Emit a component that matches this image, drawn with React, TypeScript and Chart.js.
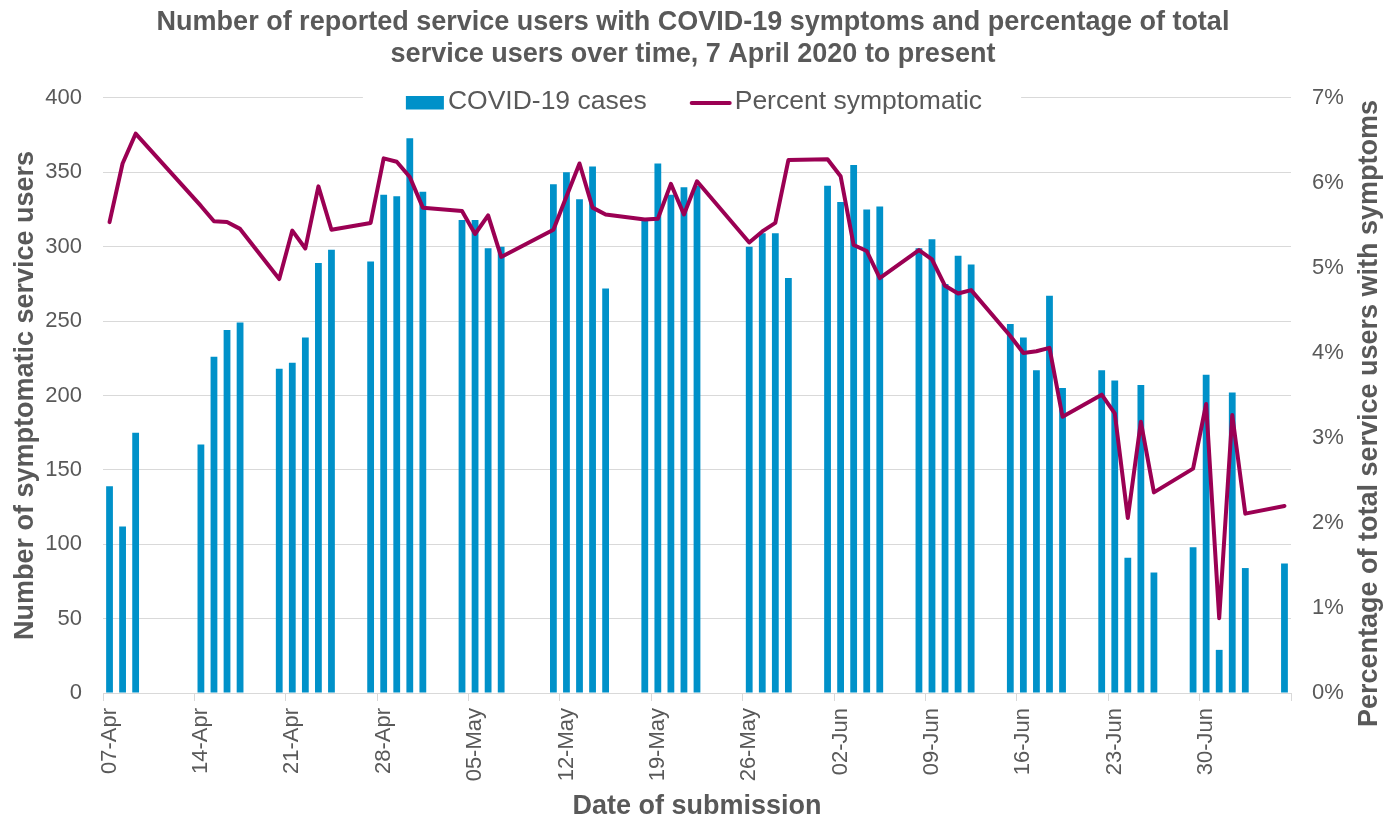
import React, { useEffect, useRef } from "react";
import { Chart, registerables } from "chart.js";

Chart.register(...registerables);

const TITLE_LINES = [
  "Number of reported service users with COVID-19 symptoms and percentage of total",
  "service users over time, 7 April 2020 to present",
];
const X_TITLE = "Date of submission";
const Y_LEFT_TITLE = "Number of symptomatic service users";
const Y_RIGHT_TITLE = "Percentage of total service users with symptoms";
const BAR_LABEL = "COVID-19 cases";
const LINE_LABEL = "Percent symptomatic";

// one category per day, 07-Apr (Tue) .. 06-Jul (Mon), laid out in weeks of 7
const DATES = [
  "07-Apr", "08-Apr", "09-Apr", "10-Apr", "11-Apr", "12-Apr", "13-Apr",
  "14-Apr", "15-Apr", "16-Apr", "17-Apr", "18-Apr", "19-Apr", "20-Apr",
  "21-Apr", "22-Apr", "23-Apr", "24-Apr", "25-Apr", "26-Apr", "27-Apr",
  "28-Apr", "29-Apr", "30-Apr", "01-May", "02-May", "03-May", "04-May",
  "05-May", "06-May", "07-May", "08-May", "09-May", "10-May", "11-May",
  "12-May", "13-May", "14-May", "15-May", "16-May", "17-May", "18-May",
  "19-May", "20-May", "21-May", "22-May", "23-May", "24-May", "25-May",
  "26-May", "27-May", "28-May", "29-May", "30-May", "31-May", "01-Jun",
  "02-Jun", "03-Jun", "04-Jun", "05-Jun", "06-Jun", "07-Jun", "08-Jun",
  "09-Jun", "10-Jun", "11-Jun", "12-Jun", "13-Jun", "14-Jun", "15-Jun",
  "16-Jun", "17-Jun", "18-Jun", "19-Jun", "20-Jun", "21-Jun", "22-Jun",
  "23-Jun", "24-Jun", "25-Jun", "26-Jun", "27-Jun", "28-Jun", "29-Jun",
  "30-Jun", "01-Jul", "02-Jul", "03-Jul", "04-Jul", "05-Jul", "06-Jul",
];

const CASES = [
  139, 112, 175, null, null, null, null,
  167, 226, 244, 249, null, null, 218,
  222, 239, 289, 298, null, null, 290,
  335, 334, 373, 337, null, null, 318,
  318, 299, 300, null, null, null, 342,
  350, 332, 354, 272, null, null, 318,
  356, 335, 340, 341, null, null, null,
  300, 309, 309, 279, null, null, 341,
  330, 355, 325, 327, null, null, 299,
  305, 275, 294, 288, null, null, 248,
  239, 217, 267, 205, null, null, 217,
  210, 91, 207, 81, null, null, 98,
  214, 29, 202, 84, null, null, 87,
];

const PERCENT = [
  5.54, 6.23, 6.58, null, null, null, null,
  5.73, 5.55, 5.54, 5.46, null, null, 4.87,
  5.44, 5.23, 5.96, 5.45, null, null, 5.53,
  6.29, 6.25, 6.07, 5.71, null, null, 5.67,
  5.40, 5.62, 5.13, null, null, null, 5.45,
  5.84, 6.23, 5.71, 5.63, null, null, 5.57,
  5.58, 5.99, 5.63, 6.02, null, null, null,
  5.30, 5.43, 5.53, 6.27, null, null, 6.28,
  6.08, 5.27, 5.20, 4.88, null, null, 5.21,
  5.10, 4.79, 4.70, 4.74, null, null, 4.20,
  4.00, 4.02, 4.06, 3.25, null, null, 3.51,
  3.29, 2.06, 3.19, 2.36, null, null, 2.64,
  3.40, 0.88, 3.27, 2.11, null, null, 2.20,
];

const LEFT_MAX = 400;
const LEFT_STEP = 50;
const RIGHT_MAX = 7;
const RIGHT_STEP = 1;
const LABEL_EVERY = 7;

const FONT = '"Liberation Sans", Arial, Helvetica, sans-serif';
const TEXT = "#595959";
const GRID = "#d9d9d9";
const BAR = "#0091c9";
const LINE = "#9b0053";

const overlayPlugin = {
  id: "overlay",
  afterDraw(chart: any) {
    const ctx = chart.ctx as CanvasRenderingContext2D;
    const area = chart.chartArea;
    ctx.save();

    // legend inside the top of the plot
    ctx.font = `26.5px ${FONT}`;
    const w1 = ctx.measureText(BAR_LABEL).width;
    const w2 = ctx.measureText(LINE_LABEL).width;
    const sw = 38, lw = 40, gap = 4, between = 44;
    const total = sw + gap + w1 + between + lw + gap + w2;
    const cx = (area.left + area.right) / 2 - 3;
    let x = cx - total / 2;
    const cy = area.top + 4;
    ctx.fillStyle = "#ffffff";
    ctx.fillRect(x - 43, cy - 15, total + 82, 29);
    ctx.fillStyle = BAR;
    ctx.fillRect(x, cy - 6, sw, 13.5);
    x += sw + gap;
    ctx.fillStyle = TEXT;
    ctx.textAlign = "left";
    ctx.textBaseline = "middle";
    ctx.fillText(BAR_LABEL, x, cy);
    x += w1 + between;
    ctx.strokeStyle = LINE;
    ctx.lineWidth = 4;
    ctx.lineCap = "round";
    ctx.beginPath();
    ctx.moveTo(x + 1, cy + 1);
    ctx.lineTo(x + lw - 1, cy + 1);
    ctx.stroke();
    x += lw + gap;
    ctx.fillText(LINE_LABEL, x, cy);

    // vertical axis titles (both read bottom-to-top)
    ctx.font = `bold 27px ${FONT}`;
    ctx.textAlign = "center";
    ctx.textBaseline = "alphabetic";
    ctx.fillStyle = TEXT;
    ctx.save();
    ctx.translate(33, (area.top + area.bottom) / 2);
    ctx.rotate(-Math.PI / 2);
    ctx.fillText(Y_LEFT_TITLE, 0, 0);
    ctx.restore();
    ctx.save();
    ctx.translate(chart.width - 9, (area.top + area.bottom) / 2 + 18);
    ctx.rotate(-Math.PI / 2);
    ctx.fillText(Y_RIGHT_TITLE, 0, 0);
    ctx.restore();

    ctx.restore();
  },
};

export default function App() {
  const ref = useRef<HTMLCanvasElement | null>(null);

  useEffect(() => {
    if (!ref.current) return;
    const chart = new Chart(ref.current, {
      type: "bar",
      data: {
        labels: DATES,
        datasets: [
          {
            type: "line",
            label: LINE_LABEL,
            data: PERCENT,
            yAxisID: "y1",
            borderColor: LINE,
            backgroundColor: LINE,
            borderWidth: 4,
            pointRadius: 0,
            spanGaps: true,
            tension: 0,
            borderJoinStyle: "round",
            borderCapStyle: "round",
            order: 0,
          } as any,
          {
            type: "bar",
            label: BAR_LABEL,
            data: CASES,
            yAxisID: "y",
            backgroundColor: BAR,
            barPercentage: 0.52,
            categoryPercentage: 1,
            order: 1,
          } as any,
        ],
      },
      options: {
        responsive: false,
        animation: false,
        layout: { padding: 0 },
        plugins: {
          legend: { display: false },
          tooltip: { enabled: false },
          title: {
            display: true,
            text: TITLE_LINES,
            color: TEXT,
            font: { family: FONT, size: 27, weight: "bold", lineHeight: 1.174 },
            padding: { top: 6.5, bottom: 28.1 },
          },
        },
        scales: {
          x: {
            type: "category",
            offset: true,
            grid: {
              offset: true,
              drawOnChartArea: false,
              drawTicks: true,
              tickLength: 8,
              tickWidth: 1,
              tickColor: (c: any) =>
                c.type !== "tick" || c.index % LABEL_EVERY === 0 ? GRID : "rgba(0,0,0,0)",
            },
            border: { display: true, color: GRID, width: 1 },
            ticks: {
              autoSkip: false,
              minRotation: 90,
              maxRotation: 90,
              padding: 7,
              color: TEXT,
              font: { family: FONT, size: 22 },
              callback: (_v: any, i: number) => (i % LABEL_EVERY === 0 ? DATES[i] : ""),
            },
            title: {
              display: true,
              text: X_TITLE,
              color: TEXT,
              font: { family: FONT, size: 27, weight: "bold", lineHeight: 1.1 },
              padding: 0,
            },
            afterFit: (s: any) => {
              s.height = 128;
            },
          },
          y: {
            position: "left",
            min: 0,
            max: LEFT_MAX,
            ticks: {
              stepSize: LEFT_STEP,
              padding: 21,
              color: TEXT,
              font: { family: FONT, size: 22 },
            },
            grid: { color: GRID, lineWidth: 1, drawTicks: false },
            border: { display: false },
            afterFit: (s: any) => {
              s.width = 103;
            },
          },
          y1: {
            position: "right",
            min: 0,
            max: RIGHT_MAX,
            ticks: {
              stepSize: RIGHT_STEP,
              padding: 21,
              color: TEXT,
              font: { family: FONT, size: 22 },
              callback: (v: any) => `${v}%`,
            },
            grid: { drawOnChartArea: false, drawTicks: false },
            border: { display: false },
            afterFit: (s: any) => {
              s.width = 95;
            },
          },
        },
      } as any,
      plugins: [overlayPlugin],
    });
    return () => chart.destroy();
  }, []);

  return (
    <div style={{ position: "fixed", left: 0, top: 0, width: 1386, height: 821, background: "#fff" }}>
      <canvas ref={ref} width={1386} height={821} style={{ display: "block" }} />
    </div>
  );
}
